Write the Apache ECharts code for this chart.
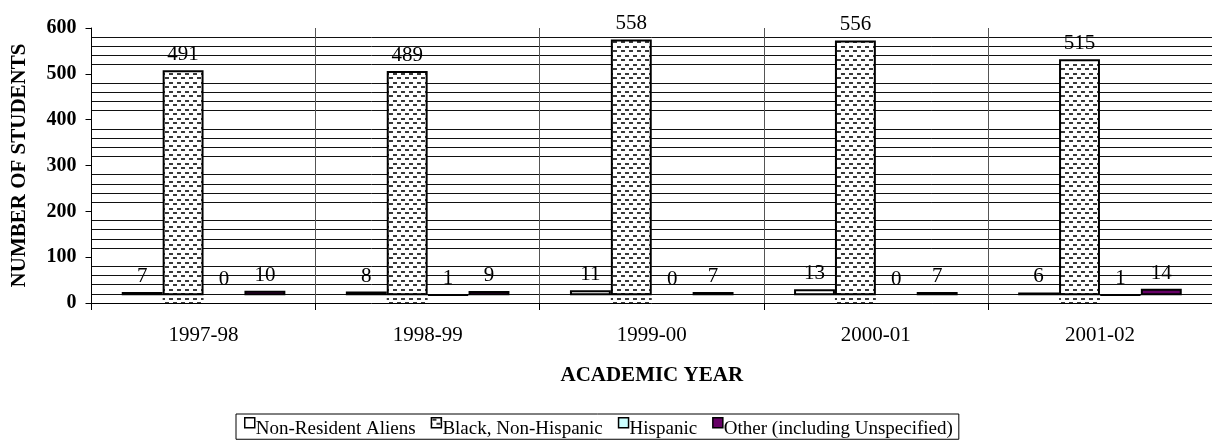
<!DOCTYPE html>
<html>
<head>
<meta charset="utf-8">
<script src="https://cdn.jsdelivr.net/npm/echarts@6/dist/echarts.min.js"></script>
<style>html,body{margin:0;padding:0;background:#fff;}#chart{width:1212px;height:444px;}</style>
</head>
<body>
<div id="chart"></div>
<script>
const categories = ['1997-98', '1998-99', '1999-00', '2000-01', '2001-02'];
const nonResidentAliens = [7, 8, 11, 13, 6];
const blackNonHispanic = [491, 489, 558, 556, 515];
const hispanic = [0, 1, 0, 0, 1];
const otherUnspecified = [10, 9, 7, 7, 14];
const seriesNames = ['Non-Resident Aliens', 'Black, Non-Hispanic', 'Hispanic', 'Other (including Unspecified)'];
const yTicks = { min: 0, max: 600, interval: 100 };

// 3D floor depth emulation (visual offset of the bar base, in axis units)
const DEPTH = 17;

function makePattern() {
  const c = document.createElement('canvas');
  c.width = 8; c.height = 9;
  const g = c.getContext('2d');
  g.fillStyle = '#ffffff'; g.fillRect(0, 0, 8, 9);
  g.fillStyle = '#3a3a3a';
  g.fillRect(1, 1, 4, 2);
  g.fillRect(5, 5, 3, 2);
  g.fillRect(0, 5, 1, 2);
  return c;
}
const pattern = { image: makePattern(), repeat: 'repeat' };

const FONT = '"Liberation Serif", "Times New Roman", serif';
const chart = echarts.init(document.getElementById('chart'), null, { renderer: 'canvas' });

const valueSets = [nonResidentAliens, blackNonHispanic, hispanic, otherUnspecified];
const fills = ['#ffffff', pattern, '#ccffff', '#660066'];

const series = [];
valueSets.forEach((vals, i) => {
  const stack = 's' + i;
  series.push({
    name: 'base' + i,
    type: 'bar',
    stack: stack,
    barGap: '0%',
    barCategoryGap: '27%',
    data: categories.map(() => DEPTH),
    itemStyle: i === 1 ? { color: pattern, borderWidth: 0 } : { color: 'rgba(0,0,0,0)', borderWidth: 0 },
    silent: true,
    z: 2
  });
  series.push({
    name: seriesNames[i],
    type: 'bar',
    stack: stack,
    barGap: '0%',
    barCategoryGap: '27%',
    data: vals.map(v => v === 0 ? { value: v, itemStyle: { borderWidth: 0 } } : v),
    itemStyle: { color: fills[i], borderColor: '#000', borderWidth: 2 },
    label: {
      show: true, position: 'top', distance: 5,
      fontFamily: FONT, fontSize: 21, color: '#000',
      formatter: p => String(p.value)
    },
    z: 3
  });
});

chart.setOption({
  animation: false,
  backgroundColor: '#fff',
  grid: { left: 91.5, right: -8, top: 28, bottom: 141, containLabel: false },
  xAxis: {
    type: 'category',
    data: categories,
    axisLine: { show: true, lineStyle: { color: '#000', width: 1 } },
    axisTick: { show: true, length: 7, lineStyle: { color: '#000' } },
    splitLine: { show: true, lineStyle: { color: '#555', width: 1 } },
    axisLabel: { fontFamily: FONT, fontSize: 21, color: '#000', margin: 22 },
    name: 'ACADEMIC YEAR',
    nameLocation: 'middle',
    nameGap: 62,
    nameTextStyle: { fontFamily: FONT, fontSize: 21, fontWeight: 'bold', color: '#000' }
  },
  yAxis: {
    type: 'value',
    min: yTicks.min, max: yTicks.max, interval: yTicks.interval,
    axisLine: { show: true, lineStyle: { color: '#000', width: 1 } },
    axisTick: { show: true, length: 6, lineStyle: { color: '#000' } },
    splitLine: { show: false },
    minorTick: { show: false, splitNumber: 5 },
    minorSplitLine: { show: true, lineStyle: { color: '#111', width: 1 } },
    axisLabel: { fontFamily: FONT, fontSize: 20, fontWeight: 'bold', color: '#000', margin: 15 },
    name: 'NUMBER OF STUDENTS',
    nameLocation: 'middle',
    nameGap: 61,
    nameRotate: 90,
    nameTextStyle: { fontFamily: FONT, fontSize: 21, fontWeight: 'bold', color: '#000' }
  },
  legend: {
    data: seriesNames,
    left: 236, top: 414,
    orient: 'horizontal',
    borderColor: '#000', borderWidth: 1,
    padding: [3, 6, 1, 8],
    itemWidth: 10, itemHeight: 10, itemGap: 15,
    icon: 'rect',
    itemStyle: { borderColor: '#000', borderWidth: 1.5 },
    formatter: name => '{t|' + name + '}',
    textStyle: {
      fontFamily: FONT, fontSize: 19, color: '#000',
      rich: { t: { fontFamily: FONT, fontSize: 19, color: '#000', padding: [12, 0, 0, -4] } }
    }
  },
  series: series
});
</script>
</body>
</html>
